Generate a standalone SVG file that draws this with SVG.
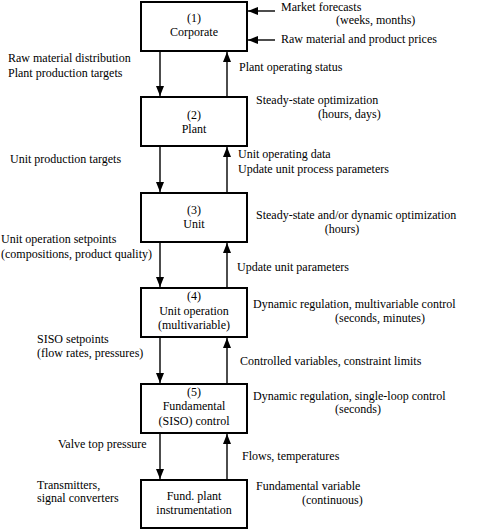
<svg xmlns="http://www.w3.org/2000/svg" width="500" height="530" viewBox="0 0 500 530">
<style>
text{font-family:"Liberation Serif","Times New Roman",serif;font-size:12px;fill:#000}
.c{text-anchor:middle}
.box{fill:#fff;stroke:#000;stroke-width:2}
.ln{stroke:#000;stroke-width:1.4;fill:none;marker-end:url(#ah)}
</style>
<defs>
<marker id="ah" viewBox="0 0 10 8" refX="10" refY="4" markerWidth="10" markerHeight="8" markerUnits="userSpaceOnUse" orient="auto">
<path d="M0,0 L10,4 L0,8 Z" fill="#000"/>
</marker>
</defs>
<g id="connectors">
<line class="ln" x1="275" y1="11" x2="248" y2="11"/>
<line class="ln" x1="275" y1="40" x2="248" y2="40"/>
<line class="ln" x1="160" y1="51" x2="160" y2="96"/>
<line class="ln" x1="227" y1="97" x2="227" y2="52"/>
<line class="ln" x1="160" y1="146" x2="160" y2="192"/>
<line class="ln" x1="227" y1="193" x2="227" y2="147"/>
<line class="ln" x1="160" y1="242" x2="160" y2="287"/>
<line class="ln" x1="227" y1="288" x2="227" y2="243"/>
<line class="ln" x1="160" y1="337" x2="160" y2="383"/>
<line class="ln" x1="227" y1="384" x2="227" y2="338"/>
<line class="ln" x1="160" y1="433" x2="160" y2="479"/>
<line class="ln" x1="227" y1="480" x2="227" y2="434"/>
</g>
<g id="n1"><rect class="box" x="141" y="2" width="106" height="49"/><text class="c" x="194" y="22">(1)</text><text class="c" x="194" y="36">Corporate</text></g>
<g id="n2"><rect class="box" x="141" y="97" width="106" height="49"/><text class="c" x="194" y="119">(2)</text><text class="c" x="194" y="133">Plant</text></g>
<g id="n3"><rect class="box" x="141" y="193" width="106" height="49"/><text class="c" x="194" y="214">(3)</text><text class="c" x="194" y="228">Unit</text></g>
<g id="n4"><rect class="box" x="141" y="288" width="106" height="49"/><text class="c" x="194" y="300">(4)</text><text class="c" x="194" y="315">Unit operation</text><text class="c" x="194" y="329">(multivariable)</text></g>
<g id="n5"><rect class="box" x="141" y="384" width="106" height="49"/><text class="c" x="194" y="396">(5)</text><text class="c" x="194" y="410">Fundamental</text><text class="c" x="194" y="425">(SISO) control</text></g>
<g id="n6"><rect class="box" x="141" y="480" width="106" height="48"/><text class="c" x="194" y="500">Fund. plant</text><text class="c" x="194" y="514">instrumentation</text></g>
<g id="labels">
<text x="281" y="11">Market forecasts</text>
<text x="336" y="24">(weeks, months)</text>
<text x="281" y="43">Raw material and product prices</text>
<text x="239" y="71">Plant operating status</text>
<text x="8" y="62">Raw material distribution</text>
<text x="8" y="77">Plant production targets</text>
<text x="256" y="104">Steady-state optimization</text>
<text x="318" y="118">(hours, days)</text>
<text x="10" y="163">Unit production targets</text>
<text x="238" y="158">Unit operating data</text>
<text x="238" y="173">Update unit process parameters</text>
<text x="256" y="219">Steady-state and/or dynamic optimization</text>
<text x="342" y="233" class="c">(hours)</text>
<text x="1" y="243">Unit operation setpoints</text>
<text x="1" y="258">(compositions, product quality)</text>
<text x="237" y="271">Update unit parameters</text>
<text x="253" y="308">Dynamic regulation, multivariable control</text>
<text x="335" y="322">(seconds, minutes)</text>
<text x="37" y="343">SISO setpoints</text>
<text x="37" y="357">(flow rates, pressures)</text>
<text x="240" y="365">Controlled variables, constraint limits</text>
<text x="253" y="400">Dynamic regulation, single-loop control</text>
<text x="335" y="413">(seconds)</text>
<text x="58" y="448">Valve top pressure</text>
<text x="242" y="460">Flows, temperatures</text>
<text x="37" y="489">Transmitters,</text>
<text x="37" y="502">signal converters</text>
<text x="256" y="490">Fundamental variable</text>
<text x="302" y="504">(continuous)</text>
</g>
</svg>
